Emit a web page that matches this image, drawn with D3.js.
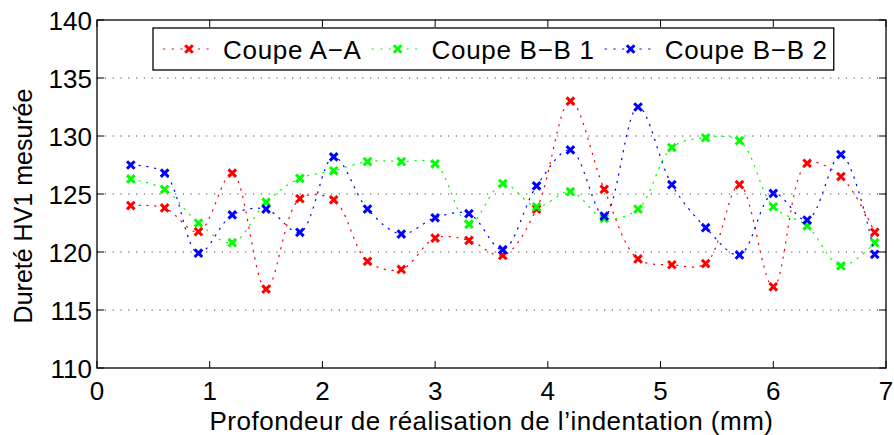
<!DOCTYPE html>
<html>

<head>
    <meta charset="utf-8">
    <style>
        body {
            margin: 0;
            background: #fff;
        }

        svg {
            font-family: "Liberation Sans", Arial, Helvetica, sans-serif;
        }

        .tick-label {
            font-size: 26px;
            fill: #000;
        }

        .axis-title {
            font-size: 26px;
            letter-spacing: 0.5px;
            fill: #000;
        }

        .y-title {
            font-size: 25px;
            fill: #000;
        }

        .legend-text {
            font-size: 26px;
            letter-spacing: 0.7px;
            fill: #000;
        }
    </style>
</head>

<body>
    <svg width="894" height="435"></svg>
</body>

<script src="https://d3js.org/d3.v7.min.js"></script>

<script>
    // depth of indentation (mm)
    let depths = [0.3, 0.6, 0.9, 1.2, 1.5, 1.8, 2.1, 2.4, 2.7, 3.0, 3.3, 3.6,
        3.9, 4.2, 4.5, 4.8, 5.1, 5.4, 5.7, 6.0, 6.3, 6.6, 6.9]

    let coupeAA = [124.0, 123.8, 121.75, 126.8, 116.8, 124.6, 124.5, 119.2, 118.5, 121.2, 121.0, 119.7,
        123.7, 133.0, 125.4, 119.4, 118.9, 119.0, 125.8, 117.0, 127.65, 126.5, 121.7]

    let coupeBB1 = [126.3, 125.4, 122.5, 120.8, 124.3, 126.35, 127.0, 127.8, 127.8, 127.6, 122.4, 125.9,
        123.9, 125.2, 122.9, 123.7, 129.0, 129.85, 129.6, 123.9, 122.25, 118.8, 120.8]

    let coupeBB2 = [127.5, 126.8, 119.9, 123.2, 123.7, 121.7, 128.2, 123.7, 121.55, 122.95, 123.3, 120.2,
        125.7, 128.8, 123.1, 132.5, 125.8, 122.1, 119.75, 125.05, 122.75, 128.4, 119.8]

    let seriesNames = ["Coupe A\u2212A", "Coupe B\u2212B 1", "Coupe B\u2212B 2"]
    let seriesColors = ["#ff0000", "#00ff00", "#0000ff"]

    let xTicks = [0, 1, 2, 3, 4, 5, 6, 7]
    let yTicks = [110, 115, 120, 125, 130, 135, 140]

    let xTitle = "Profondeur de r\u00e9alisation de l\u2019indentation (mm)"
    let yTitle = "Duret\u00e9 HV1 mesur\u00e9e"

    let series = [coupeAA, coupeBB1, coupeBB2].map(function (vals, i) {
        return {
            name: seriesNames[i],
            color: seriesColors[i],
            points: depths.map(function (d, j) { return { x: d, y: vals[j] } })
        }
    })

    let svg = d3.select("svg")

    let margin = { top: 20, right: 8, bottom: 67, left: 97 }
    let width = 894
    let height = 435

    let x = d3.scaleLinear()
        .domain([0, 7])
        .range([margin.left, width - margin.right])

    let y = d3.scaleLinear()
        .domain([110, 140])
        .range([height - margin.bottom, margin.top])

    let tickLen = 7

    // horizontal dotted grid
    svg.append("g")
        .selectAll("line")
        .data(yTicks.filter(function (t) { return t > 110 && t < 140 }))
        .join("line")
        .attr("x1", x(0))
        .attr("x2", x(7))
        .attr("y1", function (d) { return y(d) })
        .attr("y2", function (d) { return y(d) })
        .style("stroke", "#444")
        .style("stroke-width", 1)
        .style("stroke-dasharray", "1.2,6.6")

    // ticks on all four sides, pointing inwards
    let ticks = svg.append("g").style("stroke", "#000").style("stroke-width", 1)
    xTicks.forEach(function (t) {
        ticks.append("line").attr("x1", x(t)).attr("x2", x(t))
            .attr("y1", y(110)).attr("y2", y(110) - tickLen)
        ticks.append("line").attr("x1", x(t)).attr("x2", x(t))
            .attr("y1", y(140)).attr("y2", y(140) + tickLen)
    })
    yTicks.forEach(function (t) {
        ticks.append("line").attr("x1", x(0)).attr("x2", x(0) + tickLen)
            .attr("y1", y(t)).attr("y2", y(t))
        ticks.append("line").attr("x1", x(7)).attr("x2", x(7) - tickLen)
            .attr("y1", y(t)).attr("y2", y(t))
    })

    // tick labels
    svg.append("g")
        .selectAll("text")
        .data(xTicks)
        .join("text")
        .attr("class", "tick-label")
        .attr("x", function (d) { return x(d) })
        .attr("y", y(110) + 32)
        .attr("text-anchor", "middle")
        .text(function (d) { return d })

    svg.append("g")
        .selectAll("text")
        .data(yTicks)
        .join("text")
        .attr("class", "tick-label")
        .attr("x", x(0) - 5)
        .attr("y", function (d) { return y(d) + 9.5 })
        .attr("text-anchor", "end")
        .text(function (d) { return d })

    // curves (smooth line through points, dotted)
    let line = d3.line()
        .curve(d3.curveCatmullRom.alpha(0.5))
        .x(function (d) { return x(d.x) })
        .y(function (d) { return y(d.y) })

    let crossPath = "M-3.8,-3.8L3.8,3.8M-3.8,3.8L3.8,-3.8"

    series.forEach(function (s) {
        let g = svg.append("g")
        g.append("path")
            .attr("d", line(s.points))
            .style("fill", "none")
            .style("stroke", s.color)
            .style("stroke-width", 1.2)
            .style("stroke-dasharray", "2.2,5.6")

        g.selectAll(".mark")
            .data(s.points)
            .join("path")
            .attr("class", "mark")
            .attr("transform", function (d) { return `translate(${x(d.x)},${y(d.y)})` })
            .attr("d", crossPath)
            .style("stroke", s.color)
            .style("stroke-width", 3)
    })

    // axes box
    svg.append("rect")
        .attr("x", x(0))
        .attr("y", y(140))
        .attr("width", x(7) - x(0))
        .attr("height", y(110) - y(140))
        .style("fill", "none")
        .style("stroke", "#000")
        .style("stroke-width", 1.3)

    // axis titles
    svg.append("text")
        .attr("class", "axis-title")
        .attr("x", (x(0) + x(7)) / 2)
        .attr("y", 430)
        .attr("text-anchor", "middle")
        .text(xTitle)

    svg.append("text")
        .attr("class", "y-title")
        .attr("transform", `translate(32,${(y(110) + y(140)) / 2 + 12}) rotate(-90)`)
        .attr("text-anchor", "middle")
        .text(yTitle)

    // legend
    let legend = svg.append("g")
    let legendBox = legend.append("rect")
        .attr("x", 153)
        .attr("y", 28)
        .attr("height", 42)
        .style("fill", "#fff")
        .style("stroke", "#000")
        .style("stroke-width", 1.3)

    let lx = 163
    series.forEach(function (s) {
        legend.append("line")
            .attr("x1", lx).attr("x2", lx + 52)
            .attr("y1", 49).attr("y2", 49)
            .style("stroke", s.color)
            .style("stroke-width", 1.2)
            .style("stroke-dasharray", "2.2,6.5")
        legend.append("path")
            .attr("transform", `translate(${lx + 26},49)`)
            .attr("d", crossPath)
            .style("stroke", s.color)
            .style("stroke-width", 3)
        let t = legend.append("text")
            .attr("class", "legend-text")
            .attr("x", lx + 60)
            .attr("y", 59)
            .text(s.name)
        lx = lx + 60 + t.node().getComputedTextLength() + 10
    })
    legendBox.attr("width", lx - 4 - 153)
</script>

</html>
